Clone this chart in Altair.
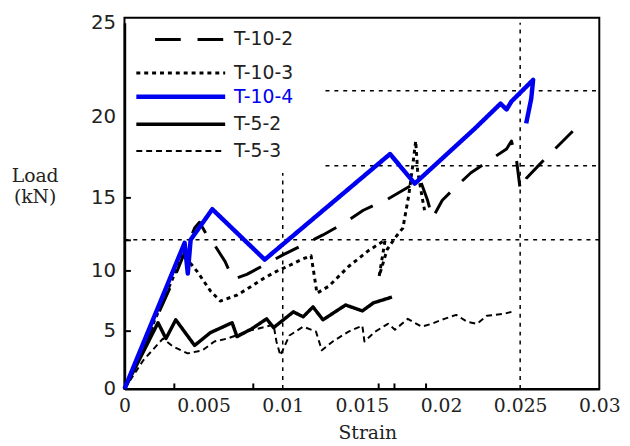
import altair as alt
import pandas as pd

# ---------------- data ----------------
series = ["T-10-2", "T-10-3", "T-10-4", "T-5-2", "T-5-3"]

t102_x = [0, 0.0015, 0.00306, 0.00443, 0.00474, 0.00524, 0.00568, 0.00636, 0.00686, 0.00773,
          0.01004, 0.01254, 0.01397, 0.01509, 0.01659, 0.01821, 0.01865, 0.01915, 0.01946,
          0.02008, 0.02102, 0.02189, 0.0232, 0.02414, 0.02445, 0.02476, 0.02501, 0.02538,
          0.02626, 0.02726, 0.02832]
t102_y = [0, 4.49, 9.1, 12.9, 13.3, 12.36, 11.76, 10.6, 9.26, 9.67,
          11.08, 12.43, 13.3, 14.12, 14.86, 15.79, 16.16, 14.8, 13.58,
          14.8, 15.73, 16.52, 17.38, 17.99, 18.48, 17.38, 15.43, 16.16,
          17.07, 18.05, 19.09]

t103_x = [0, 0.0015, 0.0037, 0.0046, 0.00543, 0.00605, 0.00711, 0.00792, 0.00879, 0.0096,
          0.01042, 0.01116, 0.01179, 0.01198, 0.01216, 0.01291, 0.01416, 0.01541, 0.01647,
          0.01609, 0.01659, 0.01709, 0.01759, 0.01796, 0.01821, 0.0184, 0.01852, 0.01884, 0.01896]
t103_y = [0, 4.6, 11.1, 9.9, 8.3, 7.46, 7.95, 8.6, 9.34, 9.92,
          10.34, 10.74, 11.01, 9.67, 8.11, 8.69, 10.27, 11.35, 12.09,
          9.51, 11.42, 12.23, 12.9, 15.12, 16.95, 18.48, 16.65, 14.8, 14.12]

t104_x = [0, 0.0038, 0.0040, 0.00418, 0.00555, 0.00886, 0.01678, 0.01834, 0.02208, 0.02376,
          0.02414, 0.02445, 0.02582, 0.0257, 0.02538]
t104_y = [0, 11.89, 9.75, 12.1, 14.19, 10.74, 17.68, 15.85, 19.2, 20.68,
          20.37, 20.8, 21.95, 20.95, 19.57]

t52_x = [0, 0.00212, 0.00262, 0.00324, 0.00443, 0.00543, 0.0068, 0.00711, 0.00805, 0.00898,
         0.00942, 0.01067, 0.01129, 0.01191, 0.01254, 0.01397, 0.01503, 0.01572, 0.0169]
t52_y = [0, 5.66, 4.32, 5.9, 3.73, 4.83, 5.66, 4.49, 5.16, 5.98,
         5.25, 6.56, 6.15, 6.97, 5.9, 7.13, 6.64, 7.3, 7.79]

t53_x = [0, 0.00119, 0.00243, 0.00306, 0.00399, 0.00493, 0.00568, 0.00649, 0.00792, 0.00942,
         0.0096, 0.00985, 0.01042, 0.01129, 0.0121, 0.01247, 0.01316, 0.01416, 0.01503,
         0.01516, 0.01584, 0.01665, 0.01709, 0.0179, 0.01877, 0.0194, 0.02021, 0.02096,
         0.02164, 0.02227, 0.02289, 0.02395, 0.02445]
t53_y = [0, 2.46, 4.32, 3.64, 3.05, 3.31, 4.07, 4.32, 5.0, 5.49,
         4.07, 2.88, 4.58, 5.33, 4.92, 3.31, 4.07, 4.92, 5.41,
         4.07, 4.92, 5.57, 5.08, 5.98, 5.33, 5.57, 5.98, 6.31,
         5.74, 5.57, 6.23, 6.39, 6.56]

# dotted reference lines
href_y = [12.1, 16.95, 21.37]
href_x0 = [0, 0.0127, 0.0127]
href_x1 = [0.03, 0.03, 0.03]
vref_x = [0.01, 0.025]
vref_y0 = [0, 0]
vref_y1 = [16.5, 25]

x_ticks = [0, 0.005, 0.01, 0.015, 0.02, 0.025, 0.03]
y_ticks = [0, 5, 10, 15, 20, 25]
x_inner_ticks = [0.0031, 0.0081, 0.016, 0.017, 0.019]
y_inner_ticks = [5, 10, 12.1, 15]

# ---------------- styles ----------------
style = {
    "T-10-2": dict(color="black", strokeDash=[26, 17], strokeWidth=3),
    "T-10-3": dict(color="black", strokeDash=[4, 4], strokeWidth=3),
    "T-10-4": dict(color="#0000f0", strokeDash=[1, 0], strokeWidth=4.5),
    "T-5-2": dict(color="black", strokeDash=[1, 0], strokeWidth=3.5),
    "T-5-3": dict(color="black", strokeDash=[6, 4], strokeWidth=2),
}
data = {
    "T-10-2": (t102_x, t102_y),
    "T-10-3": (t103_x, t103_y),
    "T-10-4": (t104_x, t104_y),
    "T-5-2": (t52_x, t52_y),
    "T-5-3": (t53_x, t53_y),
}

W, H = 481, 376
x_scale = alt.Scale(domain=[0, 0.03], nice=False, zero=False)
y_scale = alt.Scale(domain=y_ticks, range=[376, 317, 256, 182, 100, 5], nice=False, zero=False)

layers = []

# reference dotted lines
href = pd.DataFrame({"x0": href_x0, "x1": href_x1, "y": href_y})
layers.append(alt.Chart(href).mark_rule(color="black", strokeDash=[4, 5], strokeWidth=1.5).encode(
    x=alt.X("x0:Q", scale=x_scale, axis=None), x2="x1:Q",
    y=alt.Y("y:Q", scale=y_scale, axis=None)))
vref = pd.DataFrame({"x": vref_x, "y0": vref_y0, "y1": vref_y1})
layers.append(alt.Chart(vref).mark_rule(color="black", strokeDash=[4, 5], strokeWidth=1.5).encode(
    x=alt.X("x:Q", scale=x_scale, axis=None),
    y=alt.Y("y0:Q", scale=y_scale, axis=None), y2="y1:Q"))

# curves
for name in ["T-5-3", "T-5-2", "T-10-3", "T-10-2", "T-10-4"]:
    xs, ys = data[name]
    df = pd.DataFrame({"strain": xs, "load": ys, "i": list(range(len(xs)))})
    st = style[name]
    layers.append(alt.Chart(df).mark_line(strokeJoin="round", **st).encode(
        x=alt.X("strain:Q", scale=x_scale, axis=None),
        y=alt.Y("load:Q", scale=y_scale, axis=None),
        order="i:Q"))

# main axes
axdf = pd.DataFrame({"strain": t104_x, "load": t104_y})
layers.append(alt.Chart(axdf).mark_point(opacity=0).encode(
    x=alt.X("strain:Q", scale=x_scale, axis=alt.Axis(
        orient="bottom", values=x_ticks, format="~g", tickSize=0, domainColor="black",
        domainWidth=2.5, labelFont="DejaVu Serif", labelFontSize=19, labelColor="#222",
        labelPadding=8, labelFlush=False, labelOverlap=False, grid=False,
        title="Strain", titleFont="DejaVu Serif", titleFontSize=19, titleFontWeight="normal",
        titleColor="#222", titleX=246, titleY=44, titleBaseline="middle", titleAlign="center")),
    y=alt.Y("load:Q", scale=y_scale, axis=alt.Axis(
        orient="left", values=y_ticks, tickSize=0, domainColor="black", domainWidth=2.5,
        labelFont="DejaVu Sans", labelFontSize=20, labelColor="#222", labelPadding=9,
        labelFlush=False, labelOverlap=False, grid=False,
        title=["Load", "(kN)"], titleAngle=0, titleFont="DejaVu Serif", titleFontSize=19,
        titleFontWeight="normal", titleColor="#222", titleX=-91, titleY=160,
        titleAlign="center", titleBaseline="middle", titleLineHeight=21))))

# inward tick marks
layers.append(alt.Chart(axdf).mark_point(opacity=0).encode(
    x=alt.X("strain:Q", scale=x_scale, axis=alt.Axis(
        orient="bottom", values=x_inner_ticks, offset=-6, tickSize=6, tickWidth=2,
        tickColor="black", domain=False, labels=False, title=None, grid=False)),
    y=alt.Y("load:Q", scale=y_scale, axis=alt.Axis(
        orient="left", values=y_inner_ticks, offset=-6, tickSize=6, tickWidth=2,
        tickColor="black", domain=False, labels=False, title=None, grid=False))))

# legend (drawn inside the plot)
leg_rows = [22, 56, 80, 108, 135]
for name, ry in zip(series, leg_rows):
    st = style[name]
    x1 = 31 if name == "T-10-2" else 12
    ldf = pd.DataFrame({"s": [name]})
    layers.append(alt.Chart(ldf).mark_rule(**st).encode(
        x=alt.value(x1), x2=alt.value(102), y=alt.value(ry)))
    layers.append(alt.Chart(ldf).mark_text(
        align="left", baseline="middle", font="DejaVu Sans", fontSize=19,
        color=("#0000f0" if name == "T-10-4" else "#222")).encode(
        x=alt.value(111), y=alt.value(ry), text="s:N"))

chart = alt.layer(*layers).resolve_axis(x="independent", y="independent").properties(
    width=W, height=H,
    autosize=alt.AutoSizeParams(type="none"),
    padding={"left": 118, "top": 7, "right": 23, "bottom": 55},
).configure_view(stroke="black", strokeWidth=2)

chart.save("out.html", embed_options={"renderer": "svg", "actions": False})
